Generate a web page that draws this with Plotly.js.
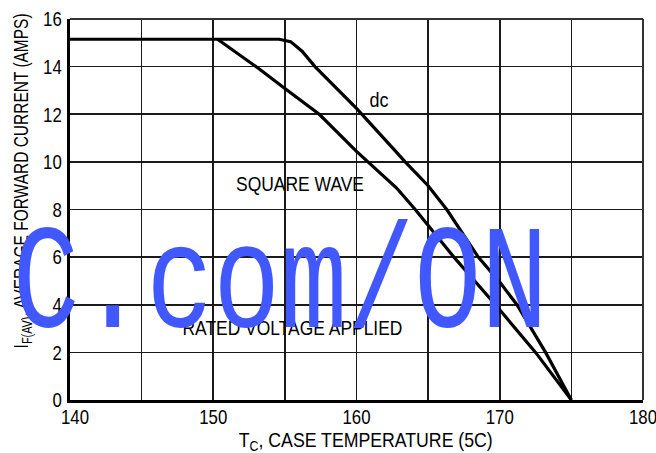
<!DOCTYPE html>
<html>
<head>
<meta charset="utf-8">
<script src="https://cdn.plot.ly/plotly-3.0.1.min.js"></script>
<style>
  html, body { margin: 0; padding: 0; background: #fff; }
  #chart { width: 656px; height: 453px; }
</style>
</head>
<body>
<div id="chart"></div>
<script>
// ---- data ----
const dcTemp    = [140, 154.6, 155.4, 156.2, 157.1, 160, 162.5, 163.4, 165, 166.3, 168.5, 170, 171.2, 173.2, 175];
const dcCurrent = [15.15, 15.15, 15.05, 14.65, 14.0, 12.25, 10.6, 10.0, 9.0, 8.0, 6.0, 4.95, 4.0, 2.0, 0];

const sqTemp    = [150.3, 153.1, 155, 157.4, 160, 162.8, 164.1, 165, 166.8, 169.7, 172.5, 175];
const sqCurrent = [15.15, 13.95, 13.08, 12.0, 10.44, 8.9, 8.0, 7.35, 6.0, 4.0, 2.0, 0];

const xTickVals = [140, 145, 150, 155, 160, 165, 170, 175, 180];
const xTickText = ['140', '', '150', '', '160', '', '170', '', '180'];
const yTickVals = [0, 2, 4, 6, 8, 10, 12, 14, 16];
const yTickText = ['0', '2', '4', '6', '8', '10', '12', '14', '16'];

const labelDc = 'dc';
const labelSquare = 'SQUARE WAVE';
const labelRated = 'RATED VOLTAGE APPLIED';
const xTitle = 'T<sub>C</sub>, CASE TEMPERATURE (5C)';
const yTitle = 'I<sub>F(AV)</sub>, AVERAGE FORWARD CURRENT (AMPS)';
const watermark = 'C.com/ON';

const FONT = '"Liberation Sans", Arial, Helvetica, sans-serif';
const FS = 21;
const GRID = '#1a1a1a';

function px2x(px) { return (px - 70) / 573; }
function py2y(py) { return (400 - py) / 381; }

const traces = [
  { x: dcTemp, y: dcCurrent, mode: 'lines', line: { color: '#000', width: 3.2 }, hoverinfo: 'skip', showlegend: false },
  { x: sqTemp, y: sqCurrent, mode: 'lines', line: { color: '#000', width: 3.2 }, hoverinfo: 'skip', showlegend: false }
];

function lab(text, px, py, extra) {
  return Object.assign({
    text: text, xref: 'paper', yref: 'paper', x: px2x(px), y: py2y(py),
    xanchor: 'center', yanchor: 'middle', showarrow: false,
    font: { family: FONT, size: FS, color: '#000' }
  }, extra || {});
}

// target rendered widths (px) of the condensed labels, in annotation order
const annWidths = [19, 128, 220, 254, 335];

const layout = {
  width: 656, height: 453, autosize: false,
  margin: { l: 70, r: 13, t: 19, b: 53 },
  paper_bgcolor: '#fff', plot_bgcolor: '#fff',
  font: { family: FONT, size: FS, color: '#000' },
  showlegend: false,
  xaxis: {
    range: [140, 180], tickmode: 'array', tickvals: xTickVals, ticktext: xTickText,
    showgrid: true, gridcolor: GRID, gridwidth: 1.6,
    showline: true, linecolor: '#000', linewidth: 3,
    zeroline: false, ticks: '', ticklabelstandoff: -4, ticklabeloverflow: 'allow',
    tickfont: { family: FONT, size: FS, color: '#000' },
    fixedrange: true
  },
  yaxis: {
    range: [0, 16], tickmode: 'array', tickvals: yTickVals, ticktext: yTickText,
    showgrid: true, gridcolor: GRID, gridwidth: 1.6,
    showline: true, linecolor: '#000', linewidth: 3,
    zeroline: false, ticks: '', ticklabelstandoff: 1, ticklabeloverflow: 'allow',
    tickfont: { family: FONT, size: FS, color: '#000' },
    fixedrange: true
  },
  shapes: [
    { type: 'line', xref: 'paper', yref: 'paper', x0: 0, x1: 1, y0: 1, y1: 1, line: { color: '#333', width: 2 } },
    { type: 'line', xref: 'paper', yref: 'paper', x0: 1, x1: 1, y0: 0, y1: 1, line: { color: '#333', width: 2 } }
  ],
  annotations: [
    lab(labelDc, 379, 99),
    lab(labelSquare, 300, 183),
    lab(labelRated, 292, 327),
    lab(xTitle, 366, 441),
    lab(yTitle, 22, 181, { textangle: -90 }),
    lab(watermark, 280, 287, { font: { family: '"Liberation Mono", "DejaVu Sans Mono", monospace', size: 148, color: '#4258ff' } })
  ]
};

function squeeze(el, target) {
  try {
    const w = el.getComputedTextLength();
    if (w > 0) {
      el.setAttribute('textLength', target.toFixed(2));
      el.setAttribute('lengthAdjust', 'spacingAndGlyphs');
    }
  } catch (e) {}
}

Plotly.newPlot('chart', traces, layout, { staticPlot: true, displayModeBar: false }).then(function (gd) {
  const anns = gd.querySelectorAll('g.annotation');
  anns.forEach(function (g, i) {
    const t = g.querySelector('text');
    if (!t) return;
    if (i === anns.length - 1) {
      t.style.transformBox = 'fill-box';
      t.style.transformOrigin = 'center';
      t.style.transform = 'scale(0.754, 1)';
    } else if (i < annWidths.length) {
      squeeze(t, annWidths[i]);
    }
  });
  gd.querySelectorAll('g.xtick text, g.ytick text').forEach(function (t) {
    try {
      const w = t.getComputedTextLength();
      if (w > 0) squeeze(t, w * 0.8);
      if (t.textContent === xTickText[0] && t.closest('g.xtick')) t.setAttribute('dx', '5');
    } catch (e) {}
  });
});
</script>
</body>
</html>
